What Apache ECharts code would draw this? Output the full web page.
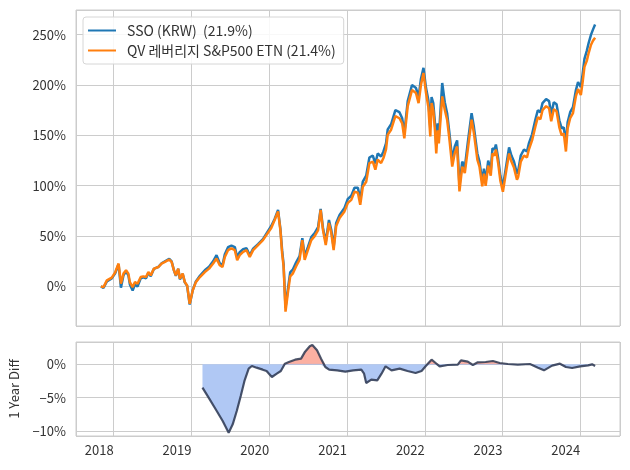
<!DOCTYPE html>
<html>
<head>
<meta charset="utf-8">
<script src="https://cdn.jsdelivr.net/npm/echarts@6/dist/echarts.min.js"></script>
<style>html,body{margin:0;padding:0;background:#fff}#c{width:630px;height:470px}</style>
</head>
<body>
<div id="c"></div>
<script>
// ---- data ----
const seriesNames = ['SSO (KRW)  (21.9%)', 'QV 레버리지 S&P500 ETN (21.4%)'];
const dates = [
'2017-11-02','2017-11-14','2017-11-30','2017-12-23','2018-01-08','2018-01-24','2018-02-04','2018-02-16','2018-02-28','2018-03-11',
'2018-03-18','2018-03-31','2018-04-11','2018-04-23','2018-05-08','2018-05-20','2018-06-02','2018-06-13','2018-06-24','2018-07-09',
'2018-07-30','2018-08-14','2018-08-30','2018-09-19','2018-09-30','2018-10-11','2018-10-20','2018-10-31','2018-11-08','2018-11-21',
'2018-12-01','2018-12-12','2018-12-24','2019-01-07','2019-01-22','2019-02-10','2019-03-05','2019-03-25','2019-04-13','2019-04-29',
'2019-05-14','2019-05-27','2019-06-07','2019-06-22','2019-07-08','2019-07-24','2019-08-04','2019-08-16','2019-09-01','2019-09-17',
'2019-10-02','2019-10-18','2019-11-10','2019-12-03','2020-01-11','2020-01-27','2020-02-12','2020-02-23','2020-03-02','2020-03-09',
'2020-03-18','2020-03-29','2020-04-09','2020-04-22','2020-05-07','2020-05-23','2020-06-05','2020-06-16','2020-07-01','2020-07-17',
'2020-08-02','2020-08-18','2020-08-30','2020-09-10','2020-09-23','2020-10-08','2020-10-19','2020-10-30','2020-11-11','2020-11-27',
'2020-12-20','2021-01-05','2021-01-21','2021-02-05','2021-02-21','2021-03-04','2021-03-16','2021-04-01','2021-04-16','2021-05-02',
'2021-05-14','2021-05-25','2021-06-10','2021-06-21','2021-07-03','2021-07-11','2021-07-27','2021-08-16','2021-09-04','2021-09-17',
'2021-09-27','2021-10-13','2021-11-02','2021-11-21','2021-12-03','2021-12-14','2021-12-26','2022-01-07','2022-01-18','2022-01-27',
'2022-02-02','2022-02-10','2022-02-18','2022-02-24','2022-03-03','2022-03-08','2022-03-24','2022-04-05','2022-04-16','2022-04-27',
'2022-05-10','2022-05-22','2022-06-02','2022-06-13','2022-06-26','2022-07-08','2022-07-24','2022-08-09','2022-08-20','2022-09-05',
'2022-09-15','2022-09-28','2022-10-06','2022-10-14','2022-10-26','2022-11-07','2022-11-15','2022-11-25','2022-12-01','2022-12-12',
'2022-12-22','2023-01-03','2023-01-15','2023-02-01','2023-02-12','2023-02-24','2023-03-10','2023-03-16','2023-03-28','2023-04-12',
'2023-04-26','2023-05-05','2023-05-20','2023-06-05','2023-06-16','2023-06-28','2023-07-08','2023-07-25','2023-08-08','2023-08-18',
'2023-08-30','2023-09-12','2023-09-25','2023-10-06','2023-10-16','2023-10-26','2023-11-03','2023-11-15','2023-11-28','2023-12-12',
'2023-12-22','2024-01-04','2024-01-12','2024-01-21','2024-02-01','2024-02-10','2024-02-21','2024-03-01','2024-03-11'
];
const qv = [
0,-0.7,6,8.7,14,22.7,2.7,12.7,16,12.7,
4.3,-0.7,4.3,2.7,9.3,10,9.3,14.3,11,17.7,
19.3,22.7,24.3,26.7,24.3,16,11,17.7,7.7,12.7,
4.3,1,-17.3,-4,4.3,9.3,14.3,17.7,22.7,27.7,
21,19.3,29.3,36,37.7,36,26,31,34.3,36,
29.3,36,41,46,58,66,74.5,56,33,20,
-25,-6.6,10,13,20,26.5,46,26.5,36,46,
50,56,76,56,41,63,53,36,60,68,
74.5,83,86,94,93,81,99,104,122.5,124,
116,126,122.5,127.5,136,150.7,155.6,169,167,162,
147,179,195,192,182,200,212,192,178,149,
182,175,155,132,155,142,188.7,175.5,165.6,145.7,
119,132.5,139,94.4,119,112.6,139,165.6,152,126,
119,99.3,112,100,120,110,132,130,136,122,
105,94,110,132,124,118,106,109,124,130,
128,136,145,159,168,166,175,179,177,164,
176,174,158,150,152,134,157,167,172,189,
196,190,202,218,224,232,240,244,247
];
const sso = [
0,-1.5,5,8,13,22,-1.3,11,15,11,
2,-4,2,0,8,9,8,13.5,10,17.5,
19.5,23,25,27.5,25,16,10.5,17.5,7,12.5,
4,0.5,-18,-4,5,10.5,16,19.5,25,31,
23,21,32,39,40.5,39,29,34,37,38,
31,37.5,42,47,60,67,76,57,36,22,
-21,-3,14,17,24,30,48,30,39,49,
53,59,77,58,44,66,56,39,63,71,
78,87,90,98,98,86,104,110,128,130,
122,132,129,134,142,156,161,175,173,167,
152,184,200,197,188,206,217,197,185,158,
188,182,162,140,162,148,202,183,172,152,
126,139,145,100,124,118,146,172,158,132,
124,104,117,104,125,115,137,136,141,127,
110,99,115,138,130,124,112,115,130,136,
134,142,151,166,175,173,182,186,184,171,
183,181,165,157,158,142,163,173,178,195,
203,198,210,226,234,242,250,255,260
];
const diffDates = [
'2019-02-22','2019-03-23','2019-04-30','2019-05-28','2019-06-25','2019-07-14','2019-08-02','2019-08-21','2019-09-08','2019-09-27',
'2019-10-12','2019-11-03','2019-12-02','2019-12-20','2020-01-14','2020-02-06','2020-02-25','2020-03-15','2020-04-03','2020-05-02',
'2020-05-30','2020-06-18','2020-07-10','2020-07-22','2020-08-13','2020-09-01','2020-09-21','2020-10-09','2020-11-16','2020-12-24',
'2021-01-30','2021-03-09','2021-03-22','2021-04-01','2021-04-25','2021-05-23','2021-06-12','2021-07-01','2021-07-29','2021-09-05',
'2021-10-12','2021-11-19','2021-12-17','2022-01-09','2022-02-02','2022-02-21','2022-03-12','2022-04-19','2022-06-05','2022-06-20',
'2022-07-22','2022-08-15','2022-09-07','2022-10-14','2022-11-17','2022-12-19','2023-01-26','2023-03-14','2023-05-10','2023-06-17',
'2023-07-15','2023-08-22','2023-09-28','2023-10-26','2023-11-24','2024-01-01','2024-02-07','2024-02-26','2024-03-11'
];
const diff = [
-3.5,-5.0,-7.0,-8.5,-10.25,-9.0,-7.0,-4.7,-2.4,-0.65,
-0.25,-0.5,-0.8,-1.0,-1.9,-1.4,-1.0,0.1,0.35,0.7,
0.85,1.9,2.7,2.9,2.1,0.85,-0.4,-0.8,-0.9,-1.1,
-0.9,-0.8,-1.4,-2.8,-2.3,-2.4,-1.4,-0.3,-0.9,-0.65,
-1.0,-1.3,-1.0,-0.15,0.7,0.2,-0.3,-0.1,-0.05,0.6,
0.4,-0.1,0.3,0.35,0.5,0.2,0.05,-0.05,0.05,-0.5,
-0.9,-0.2,0.1,-0.4,-0.55,-0.3,-0.15,0,-0.25
];
const xMin = '2017-07-08', xMax = '2024-07-06';
const topRange = [-39.3, 274.5];
const diffRange = [-10.75, 3.35];

// ---- chart ----
const FONT = '"Noto Sans CJK KR", "Noto Sans", sans-serif';
const TXT = '#333333';
const GRID = '#cccccc';
const chart = echarts.init(document.getElementById('c'), null, {renderer: 'canvas'});
const yearFmt = v => {
  const d = new Date(v);
  return (d.getMonth() === 0 && d.getDate() === 1) ? String(d.getFullYear()) : '';
};
const minus = n => (n < 0 ? '\u2212' + (-n) : String(n));
const xBase = (gi, showLabel) => ({
  type: 'time', gridIndex: gi, min: xMin, max: xMax,
  splitNumber: 7, minInterval: 365 * 86400000,
  axisLine: {show: false}, axisTick: {show: false},
  axisLabel: {show: showLabel, formatter: yearFmt, color: TXT, fontFamily: FONT, fontSize: 13, margin: 8, align: 'right', hideOverlap: false, showMinLabel: false, showMaxLabel: false},
  splitLine: {show: true, lineStyle: {color: GRID, width: 1}}
});
chart.setOption({
  animation: false,
  backgroundColor: '#ffffff',
  textStyle: {fontFamily: FONT},
  grid: [
    {left: 76, right: 10, top: 10, height: 316, show: true, borderColor: GRID, borderWidth: 1, containLabel: false},
    {left: 76, right: 10, top: 342, height: 94, show: true, borderColor: GRID, borderWidth: 1, containLabel: false}
  ],
  legend: {
    orient: 'vertical', left: 83, top: 17,
    data: seriesNames,
    icon: 'rect', itemWidth: 28, itemHeight: 2, itemGap: 3,
    padding: [5, 8, 5, 5],
    backgroundColor: 'rgba(255,255,255,0.85)', borderColor: '#d6d6d6', borderWidth: 1, borderRadius: 3,
    textStyle: {color: TXT, fontFamily: FONT, fontSize: 14, lineHeight: 17, padding: [0, 0, 0, 6]}
  },
  xAxis: [xBase(0, false), xBase(1, true)],
  yAxis: [
    {type: 'value', gridIndex: 0, min: topRange[0], max: topRange[1], splitNumber: 6,
     axisLine: {show: false}, axisTick: {show: false},
     axisLabel: {color: TXT, fontFamily: FONT, fontSize: 13, margin: 10, showMinLabel: false, showMaxLabel: false,
       formatter: v => (Math.abs(v % 50) < 1e-6 ? v + '%' : '')},
     splitLine: {lineStyle: {color: GRID, width: 1}}},
    {type: 'value', gridIndex: 1, min: diffRange[0], max: diffRange[1], splitNumber: 3,
     name: '1 Year Diff', nameLocation: 'middle', nameGap: 55,
     nameTextStyle: {color: TXT, fontFamily: FONT, fontSize: 13},
     axisLine: {show: false}, axisTick: {show: false},
     axisLabel: {color: TXT, fontFamily: FONT, fontSize: 13, margin: 10, showMinLabel: false, showMaxLabel: false,
       formatter: v => (Math.abs(v % 5) < 1e-6 ? minus(v) + '%' : '')},
     splitLine: {lineStyle: {color: GRID, width: 1}}}
  ],
  series: [
    {name: seriesNames[0], type: 'line', xAxisIndex: 0, yAxisIndex: 0, showSymbol: false, symbol: 'none',
     color: '#1f77b4', lineStyle: {width: 2.5, color: '#1f77b4'}, z: 2,
     data: dates.map((d, i) => [d, sso[i]])},
    {name: seriesNames[1], type: 'line', xAxisIndex: 0, yAxisIndex: 0, showSymbol: false, symbol: 'none',
     color: '#ff7f0e', lineStyle: {width: 2.5, color: '#ff7f0e'}, z: 3,
     data: dates.map((d, i) => [d, qv[i]])},
    {type: 'line', xAxisIndex: 1, yAxisIndex: 1, showSymbol: false, symbol: 'none',
     lineStyle: {width: 0.6, color: '#9ab6ee'}, areaStyle: {color: '#b0c8f4', opacity: 1, origin: 0}, z: 1,
     data: diffDates.map((d, i) => [d, Math.min(diff[i], 0)])},
    {type: 'line', xAxisIndex: 1, yAxisIndex: 1, showSymbol: false, symbol: 'none',
     lineStyle: {width: 0}, areaStyle: {color: '#fbb0a2', opacity: 1, origin: 0}, z: 1,
     data: diffDates.map((d, i) => [d, Math.max(diff[i], 0)])},
    {type: 'line', xAxisIndex: 1, yAxisIndex: 1, showSymbol: false, symbol: 'none',
     lineStyle: {width: 2.2, color: 'rgba(45,55,80,0.85)'}, z: 4,
     data: diffDates.map((d, i) => [d, diff[i]])}
  ]
});
</script>
</body>
</html>
